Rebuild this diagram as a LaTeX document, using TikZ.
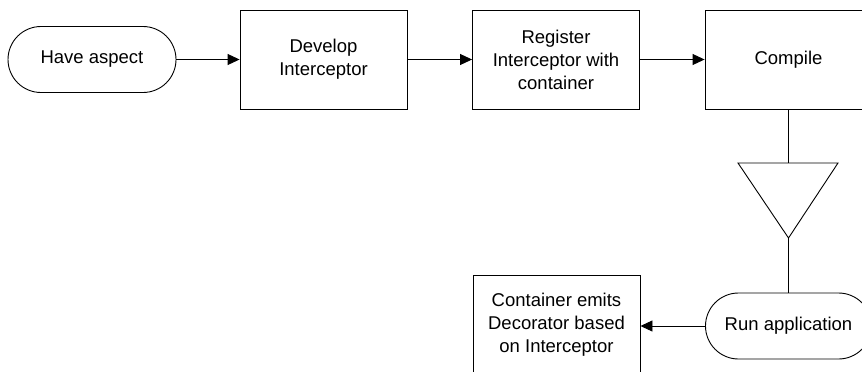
\documentclass[tikz,border=0pt]{standalone}
\usepackage{fontspec}
\setmainfont{Liberation Sans}
\usetikzlibrary{arrows.meta}
\begin{document}
\begin{tikzpicture}[x=1pt,y=-1pt,
  every node/.style={font=\fontsize{18.5}{23}\selectfont, align=center, inner sep=0pt},
  procbox/.style={draw, line width=0.9pt, minimum width=167pt, minimum height=99pt},
  termbox/.style={draw, line width=0.9pt, rounded corners=33pt, minimum width=168pt, minimum height=66pt},
  flow/.style={line width=0.9pt, -{Triangle[length=12pt,width=11pt]}},
  link/.style={line width=0.9pt}]
\useasboundingbox (0,0) rectangle (862,372);
\clip (0,0) rectangle (862,372);
\node[termbox] (have) at (92,59.5) {Have aspect};
\node[procbox] (dev) at (323.5,59.5) {Develop\\Interceptor};
\node[procbox] (reg) at (556,59.5) {Register\\Interceptor with\\container};
\node[procbox] (comp) at (788.5,59.5) {Compile};
\coordinate (tritop) at (788.5,163);
\coordinate (trileft) at (738,163);
\coordinate (triright) at (838,163);
\coordinate (triapex) at (788.5,238);
\draw[link] (trileft) -- (triright) -- (triapex) -- cycle;
\node[termbox, minimum width=166pt] (run) at (788.5,326) {Run application};
\node[procbox] (cont) at (556.5,324.5) {Container emits\\Decorator based\\on Interceptor};
\draw[flow] (have.east) -- (dev.west);
\draw[flow] (dev.east) -- (reg.west);
\draw[flow] (reg.east) -- (comp.west);
\draw[link] (comp.south) -- (tritop);
\draw[link] (triapex) -- (run.north);
\draw[flow] (run.west) -- (cont.east |- run.west);
\end{tikzpicture}
\end{document}
